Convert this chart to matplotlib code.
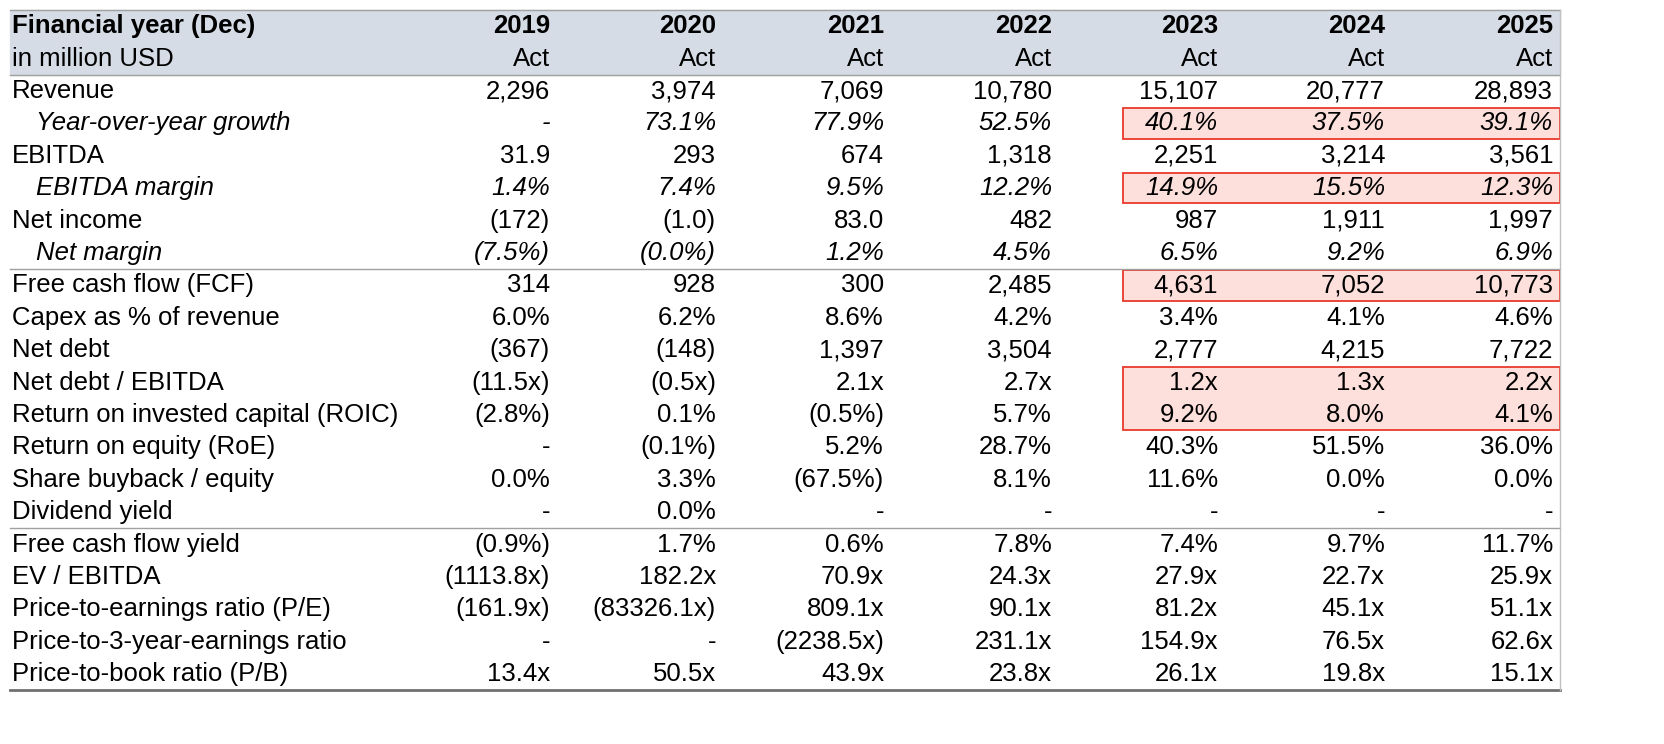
import matplotlib
matplotlib.use("Agg")
import matplotlib.pyplot as plt
from matplotlib.patches import Rectangle

plt.rcParams['font.family'] = ['Liberation Sans', 'DejaVu Sans']

years = ["2019", "2020", "2021", "2022", "2023", "2024", "2025"]
labels = [
    "Revenue", "Year-over-year growth", "EBITDA", "EBITDA margin", "Net income", "Net margin",
    "Free cash flow (FCF)", "Capex as % of revenue", "Net debt", "Net debt / EBITDA",
    "Return on invested capital (ROIC)", "Return on equity (RoE)", "Share buyback / equity",
    "Dividend yield", "Free cash flow yield", "EV / EBITDA", "Price-to-earnings ratio (P/E)",
    "Price-to-3-year-earnings ratio", "Price-to-book ratio (P/B)",
]
values = [
    ["2,296", "3,974", "7,069", "10,780", "15,107", "20,777", "28,893"],
    ["-", "73.1%", "77.9%", "52.5%", "40.1%", "37.5%", "39.1%"],
    ["31.9", "293", "674", "1,318", "2,251", "3,214", "3,561"],
    ["1.4%", "7.4%", "9.5%", "12.2%", "14.9%", "15.5%", "12.3%"],
    ["(172)", "(1.0)", "83.0", "482", "987", "1,911", "1,997"],
    ["(7.5%)", "(0.0%)", "1.2%", "4.5%", "6.5%", "9.2%", "6.9%"],
    ["314", "928", "300", "2,485", "4,631", "7,052", "10,773"],
    ["6.0%", "6.2%", "8.6%", "4.2%", "3.4%", "4.1%", "4.6%"],
    ["(367)", "(148)", "1,397", "3,504", "2,777", "4,215", "7,722"],
    ["(11.5x)", "(0.5x)", "2.1x", "2.7x", "1.2x", "1.3x", "2.2x"],
    ["(2.8%)", "0.1%", "(0.5%)", "5.7%", "9.2%", "8.0%", "4.1%"],
    ["-", "(0.1%)", "5.2%", "28.7%", "40.3%", "51.5%", "36.0%"],
    ["0.0%", "3.3%", "(67.5%)", "8.1%", "11.6%", "0.0%", "0.0%"],
    ["-", "0.0%", "-", "-", "-", "-", "-"],
    ["(0.9%)", "1.7%", "0.6%", "7.8%", "7.4%", "9.7%", "11.7%"],
    ["(1113.8x)", "182.2x", "70.9x", "24.3x", "27.9x", "22.7x", "25.9x"],
    ["(161.9x)", "(83326.1x)", "809.1x", "90.1x", "81.2x", "45.1x", "51.1x"],
    ["-", "-", "(2238.5x)", "231.1x", "154.9x", "76.5x", "62.6x"],
    ["13.4x", "50.5x", "43.9x", "23.8x", "26.1x", "19.8x", "15.1x"],
]
italic_rows = {1, 3, 5}
highlight = [(1, 1), (3, 1), (6, 1), (9, 2)]  # (first row, n rows)
separators_after = [5, 13]

fig = plt.figure(figsize=(16.64, 7.44), dpi=100)
ax = fig.add_axes([0, 0, 1, 1])
ax.set_xlim(0, 1664)
ax.set_ylim(744, 0)
ax.axis("off")

top, rh = 10, 32.4
col_x = [550, 716, 884, 1052, 1218, 1385, 1553]
left, right = 10, 1560
fs = 18.5

def yc(i):
    return top + rh * (i + 0.5)

ax.add_patch(Rectangle((left, top), right - left, 2 * rh, color="#d6dce5", zorder=0))
for r0, n in highlight:
    y0 = top + rh * (r0 + 2)
    ax.add_patch(Rectangle((1123, y0 + 1), right - 1123, n * rh - 2, facecolor="#fde0dc",
                           edgecolor="#e8392b", lw=1.3, zorder=1))

ax.text(12, yc(0), "Financial year (Dec)", fontsize=fs, fontweight="bold", va="center")
ax.text(12, yc(1), "in million USD", fontsize=fs, va="center")
for x, y in zip(col_x, years):
    ax.text(x, yc(0), y, fontsize=fs, fontweight="bold", va="center", ha="right")
    ax.text(x, yc(1), "Act", fontsize=fs, va="center", ha="right")

for i, (lab, vals) in enumerate(zip(labels, values)):
    y = yc(i + 2)
    style = "italic" if i in italic_rows else "normal"
    ax.text(36 if i in italic_rows else 12, y, lab, fontsize=fs, style=style, va="center", zorder=3)
    for x, v in zip(col_x, vals):
        ax.text(x, y, v, fontsize=fs, style=style, va="center", ha="right", zorder=3)

ax.plot([left, right], [top, top], color="#a0a0a0", lw=1)
ax.plot([left, right], [top + 2 * rh] * 2, color="#a0a0a0", lw=1)
for s in separators_after:
    yy = top + rh * (s + 3)
    ax.plot([left, right], [yy, yy], color="#a0a0a0", lw=1)
yb = top + rh * 21
ax.plot([left, right], [yb, yb], color="#707070", lw=2)
ax.plot([right, right], [top, yb], color="#c0c0c0", lw=1)

fig.savefig("out.png", dpi=100)
